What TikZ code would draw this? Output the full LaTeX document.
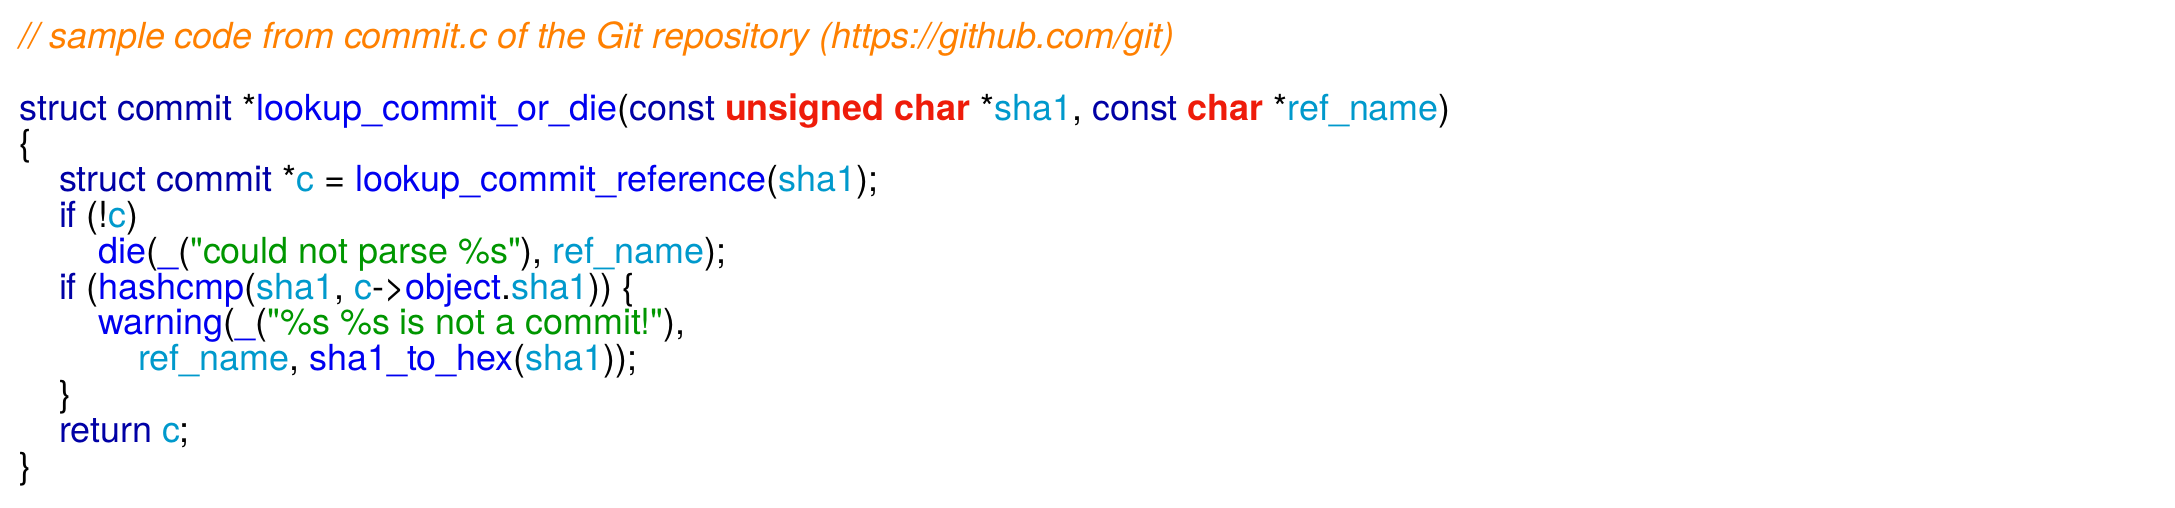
\documentclass[tikz,border=0pt]{standalone}
\usepackage{fontspec}
\setmainfont{TeX Gyre Heros}[Ligatures=TeXOff]
\definecolor{kwc}{RGB}{0,0,165}
\definecolor{fnc}{RGB}{0,0,240}
\definecolor{idc}{RGB}{0,153,204}
\definecolor{tyc}{RGB}{238,28,10}
\definecolor{strc}{RGB}{0,150,0}
\definecolor{cmc}{RGB}{255,128,0}
\newcommand\ckw[1]{\textcolor{kwc}{#1}}
\newcommand\cfn[1]{\textcolor{fnc}{#1}}
\newcommand\cid[1]{\textcolor{idc}{#1}}
\newcommand\cty[1]{\textcolor{tyc}{\bfseries #1}}
\newcommand\cstr[1]{\textcolor{strc}{#1}}
\begin{document}
\begin{tikzpicture}[x=1bp,y=-1bp,
  code/.style={anchor=base west, inner sep=0pt, outer sep=0pt, text=black,
    font=\fontsize{35.9bp}{35.9bp}\selectfont}]
\useasboundingbox (0,0) rectangle (2175,508);
\def\ind{39.5}
\def\xo{19.5}
\node[code] (cm) at (\xo,48.5) {\itshape\color{cmc}// sample code from commit.c of the Git repository (https://github.com/git)};
\node[code] (l0) at (\xo,120.1) {\ckw{struct commit} *\cfn{lookup\_commit\_or\_die}(\ckw{const} \cty{unsigned char} *\cid{sha1}, \ckw{const} \cty{char} *\cid{ref\_name})};
\node[code] (l1) at (\xo,155.9) {\{};
\node[code] (l2) at (\xo+\ind,191.7) {\ckw{struct commit} *\cid{c} = \cfn{lookup\_commit\_reference}(\cid{sha1});};
\node[code] (l3) at (\xo+\ind,227.5) {\ckw{if} (!\cid{c})};
\node[code] (l4) at (\xo+2*\ind,263.3) {\cfn{die}(\cfn{\_}(\cstr{"could not parse \%s"}), \cid{ref\_name});};
\node[code] (l5) at (\xo+\ind,299.1) {\ckw{if} (\cfn{hashcmp}(\cid{sha1}, \cid{c}->\cfn{object}.\cid{sha1})) \{};
\node[code] (l6) at (\xo+2*\ind,334.9) {\cfn{warning}(\cfn{\_}(\cstr{"\%s \%s is not a commit!"}),};
\node[code] (l7) at (\xo+3*\ind,370.7) {\cid{ref\_name}, \cfn{sha1\_to\_hex}(\cid{sha1}));};
\node[code] (l8) at (\xo+\ind,406.5) {\}};
\node[code] (l9) at (\xo+\ind,442.3) {\ckw{return} \cid{c};};
\node[code] (l10) at (\xo,478.1) {\}};
\end{tikzpicture}
\end{document}
